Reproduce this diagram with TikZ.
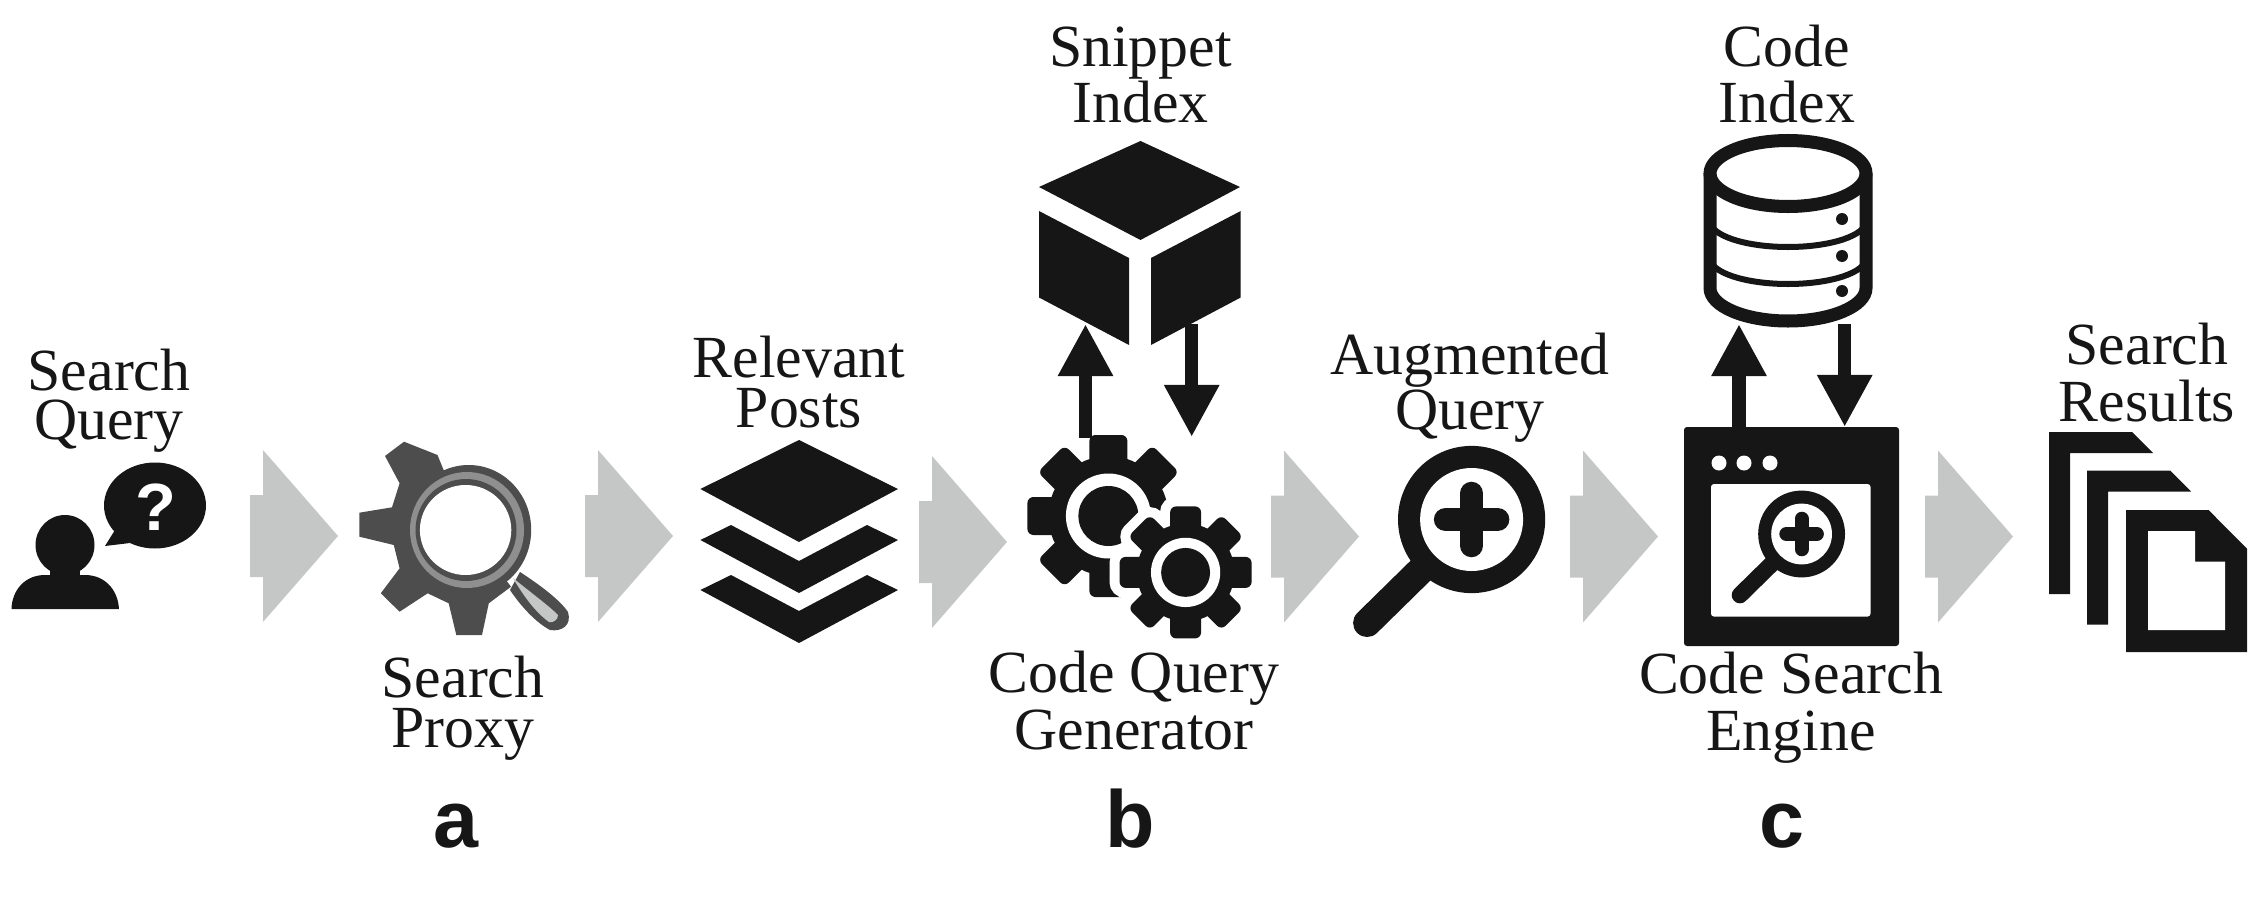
\documentclass[tikz,border=0pt]{standalone}
\usepackage{fontspec}
\setmainfont{Liberation Serif}
\setsansfont{Liberation Sans}
\usetikzlibrary{arrows.meta}
\definecolor{ink}{HTML}{161616}
\definecolor{proxygray}{HTML}{4D4D4D}
\definecolor{ringgray}{HTML}{8F8F8F}
\definecolor{flowgray}{HTML}{C5C7C6}
\tikzset{
	lab/.style={font=\fontsize{17}{17}\selectfont, text=ink, align=center, inner sep=0pt, anchor=base},
	tag/.style={font=\fontsize{23}{23}\selectfont\sffamily\bfseries, text=ink, inner sep=0pt, anchor=base},
	thinflow/.style={draw=ink, line width=0.135cm, -{Triangle[length=0.52cm,width=0.516cm]}}
}
% gear: center, scale, teeth, paint
\newcommand{\gearshape}[4]{
	\begin{scope}[shift={#1}, scale=#2]
		\foreach \a in {#3} {
			\path[#4, rotate=\a, rounded corners=0.06cm] (-19,-81) rectangle (19,0);
		}
		\path[#4] (0,0) circle (60);
	\end{scope}
}
\newcommand{\gearhole}[2]{
	\begin{scope}[shift={#1}, scale=#2]
		\fill[white] (0,0) circle (42.5);
		\fill[ink] (0,0) circle (30);
	\end{scope}
}
% magnifier: center, scale
\newcommand{\lensicon}[2]{
	\begin{scope}[shift={#1}, scale=#2]
		\draw[ink, line width=#2*0.28cm, line cap=round] (-50,50) -- (-104.5,103.5);
		\fill[ink] (0,0) circle (73.6);
		\fill[white] (0,0) circle (51.5);
		\draw[ink, line width=#2*0.235cm, line cap=round] (0,-26) -- (0,26);
		\draw[ink, line width=#2*0.235cm, line cap=round] (-26,0) -- (26,0);
	\end{scope}
}
\begin{document}
\begin{tikzpicture}[x=0.01cm, y=-0.01cm]
	\useasboundingbox (0,0) rectangle (2260,900);
	% Block arrows
	\foreach \xa/\ya in {250/536, 585/536, 919/542, 1271/536.5, 1570/536.5, 1925/536.5} {
		\fill[flowgray] (\xa,\ya-41) -- (\xa+13,\ya-41) -- (\xa+13,\ya-86) -- (\xa+88,\ya)
			-- (\xa+13,\ya+86) -- (\xa+13,\ya+41) -- (\xa,\ya+41) -- cycle;
	}
	% User and question
	\fill[ink] (65,545) ellipse (29.5 and 30);
	\fill[ink] (50,560) rectangle (80,580);
	\fill[ink] (11.5,609) .. controls (12,590) and (25,575) .. (45,575) -- (85,575)
		.. controls (105,575) and (118,590) .. (119,609) -- cycle;
	\fill[ink] (155,505.5) ellipse (51 and 43);
	\fill[ink] (105,546) -- (115,530) -- (130,543) -- cycle;
	\node[font=\fontsize{19}{19}\selectfont\sffamily\bfseries, text=white, inner sep=0pt] (question) at (156,507) {?};
	% Proxy gear
	\fill[proxygray] (437.5,455) -- (404,441.7) -- (385,456) -- (399.6,483.3) -- (392,507.3)
		-- (359.4,512.7) -- (359.4,536.7) -- (393.8,545) -- (399.6,568.3) -- (380.8,593.3)
		-- (399.6,611.7) -- (427.7,593.3) -- (448.7,603.3) -- (456.3,635) -- (482,635)
		-- (488.8,603.3) -- (511,586.7) -- (468,530) -- cycle;
	\fill[proxygray] (520,572) .. controls (540,585) and (560,600) .. (568,612)
		.. controls (572,625) and (562,632) .. (550,630)
		.. controls (535,622) and (520,605) .. (510,590) -- cycle;
	\fill[flowgray] (513,578) .. controls (530,592) and (548,605) .. (558,615)
		.. controls (558,620) and (553,623) .. (549,622)
		.. controls (535,612) and (523,595) .. (513,578) -- cycle;
	\fill[proxygray] (468.7,530) ellipse (62.5 and 65);
	\fill[ringgray] (467,530) ellipse (57 and 58);
	\fill[proxygray] (466,530) ellipse (50.5 and 51);
	\fill[white] (465.6,530) ellipse (45.7 and 45);
	% Posts
	\fill[ink] (799,440) -- (700.4,489) -- (799,542) -- (898,489) -- cycle;
	\foreach \dy in {0,50} {
		\fill[ink] (700.4,540+\dy) -- (731,525+\dy) -- (799,561+\dy) -- (867,525+\dy)
			-- (898,540+\dy) -- (799,593+\dy) -- cycle;
	}
	% Snippet cube
	\fill[ink] (1140.5,141) -- (1039,187) -- (1140.5,240) -- (1240,187) -- cycle;
	\fill[ink] (1039,211) -- (1129,258) -- (1129,345) -- (1039,297.5) -- cycle;
	\fill[ink] (1151,258) -- (1240.7,211) -- (1240.7,297.5) -- (1151,345) -- cycle;
	% Gears
	\gearshape{(1108.4,516)}{1}{0,45,90,135,180,315}{fill=ink}
	\gearhole{(1108.4,516)}{1}
	\gearshape{(1185.6,572.4)}{0.815}{0,45,...,315}{draw=white, line width=0.2cm}
	\gearshape{(1185.6,572.4)}{0.815}{0,45,...,315}{fill=ink}
	\gearhole{(1185.6,572.4)}{0.815}
	% Magnifier
	\lensicon{(1471.6,519.5)}{1}
	% Code index
	\draw[ink, line width=0.13cm] (1788,173.5) ellipse (78 and 33);
	\draw[ink, line width=0.13cm] (1710,173.5) -- (1710,288) arc[start angle=180, end angle=0, x radius=78, y radius=33] -- (1866,173.5);
	\foreach \yb in {221,258} {
		\draw[ink, line width=0.06cm] (1710,\yb) arc[start angle=180, end angle=0, x radius=78, y radius=26];
	}
	\foreach \yb in {219,256,291} {
		\fill[ink] (1842,\yb) circle (6);
	}
	% Search window
	\fill[ink, rounded corners=0.03cm] (1684,427) rectangle (1899,646);
	\fill[white, rounded corners=0.03cm] (1711,484) rectangle (1870.5,616.6);
	\foreach \xb in {1719,1744,1770} {
		\fill[white] (\xb,463) circle (7.5);
	}
	\lensicon{(1801.6,534)}{0.59}
	% Result pages
	\foreach \xc/\yc in {0/0, 38/38.5} {
		\fill[ink] (2049+\xc,432+\yc) -- (2132+\xc,432+\yc) -- (2153+\xc,453+\yc) -- (2070+\xc,453+\yc)
			-- (2070+\xc,594+\yc-8*\xc/38) -- (2049+\xc,594+\yc-8*\xc/38) -- cycle;
	}
	\fill[ink] (2126,510) -- (2208.5,510) -- (2247,548.6) -- (2247,652) -- (2126,652) -- cycle;
	\fill[white] (2148,531) -- (2195,531) -- (2195,561.6) -- (2225,561.6) -- (2225,630) -- (2148,630) -- cycle;
	% Thin arrows
	\coordinate (snippet_in) at (1085.5,324);
	\coordinate (gears_out) at (1085.5,438);
	\coordinate (snippet_out) at (1191.7,324);
	\coordinate (gears_in) at (1191.7,437);
	\coordinate (code_in) at (1739,324);
	\coordinate (window_out) at (1739,427);
	\coordinate (code_out) at (1844.7,324);
	\coordinate (window_in) at (1844.7,427);
	\draw[thinflow] (gears_out) -- (snippet_in);
	\draw[thinflow] (snippet_out) -- (gears_in);
	\draw[thinflow] (window_out) -- (code_in);
	\draw[thinflow] (code_out) -- (window_in);
	% Labels
	\node[lab] (search_query) at (109,439) {Search\\[-3.3pt]Query};
	\node[lab] (search_proxy) at (463,747) {Search\\[-3pt]Proxy};
	\node[lab] (relevant_posts) at (799,427) {Relevant\\[-3pt]Posts};
	\node[lab] (snippet_index) at (1140.5,123) {Snippet\\[-1pt]Index};
	\node[lab] (code_generator) at (1134,749) {Code Query\\[-1pt]Generator};
	\node[lab] (augmented_query) at (1470,429) {Augmented\\[-1.6pt]Query};
	\node[lab] (code_index) at (1787,123) {Code\\[-1pt]Index};
	\node[lab] (search_engine) at (1791,750) {Code Search\\[-1pt]Engine};
	\node[lab] (search_results) at (2147,421) {Search\\[-1pt]Results};
	\node[tag] (tag_a) at (456,847) {a};
	\node[tag] (tag_b) at (1130,847) {b};
	\node[tag] (tag_c) at (1782,847) {c};
\end{tikzpicture}
\end{document}
